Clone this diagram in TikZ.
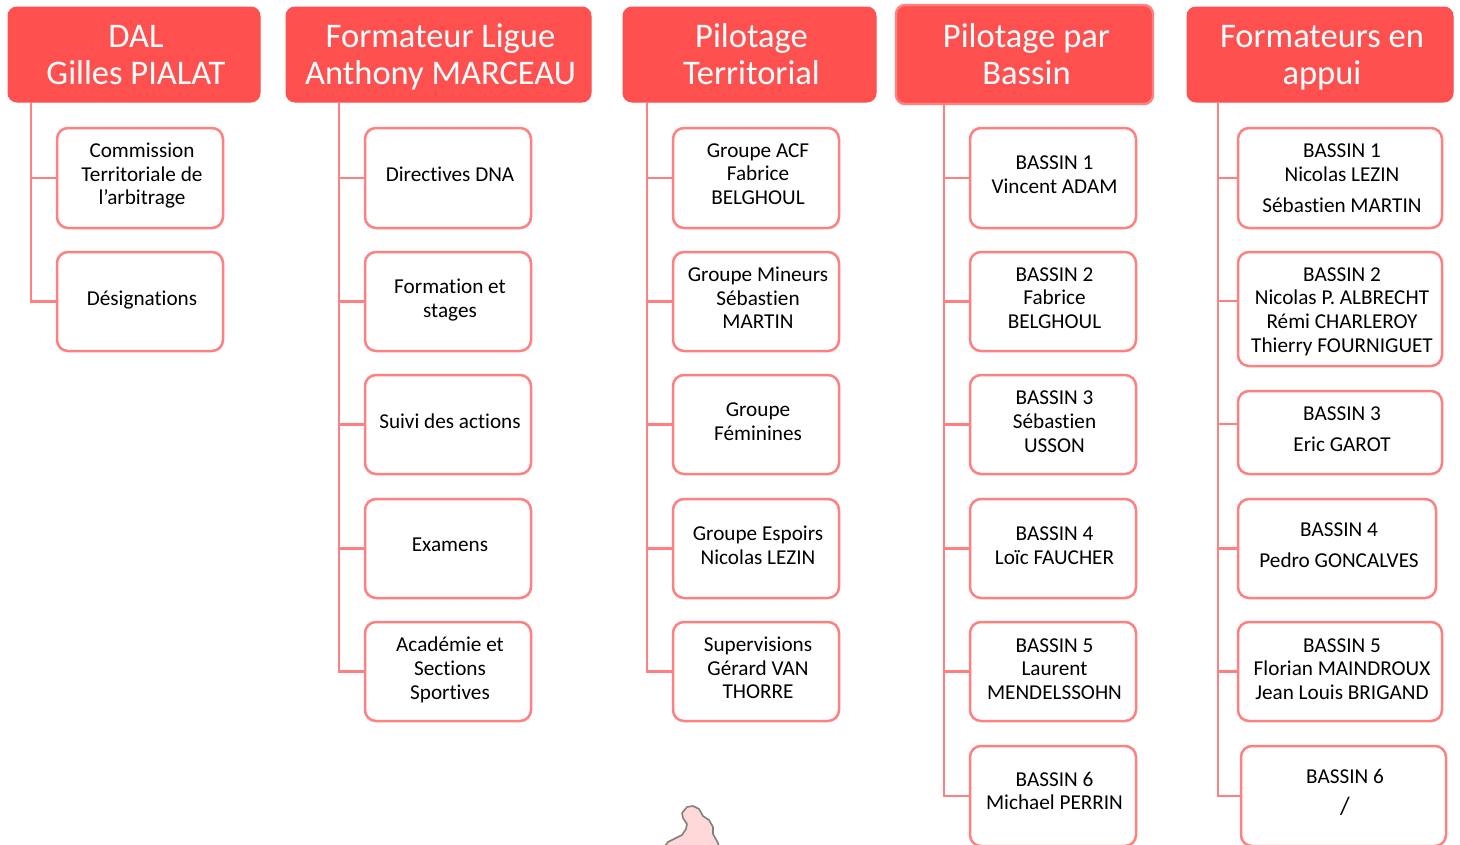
\documentclass[tikz,border=0pt]{standalone}
\usepackage{fontspec}
\setmainfont[Ligatures=NoCommon]{Carlito}
\definecolor{hdr}{HTML}{FF5050}
\definecolor{lnk}{HTML}{FF8080}
\tikzset{
  cardbox/.style={draw=lnk,line width=2.5pt,fill=white,rounded corners=11pt,inner sep=0pt},
  cardtext/.style={align=center,inner sep=0pt,text=black,font=\fontsize{21.2}{23.7}\selectfont,execute at begin node=\strut,execute at end node=\strut},
  hdrbox/.style={draw=hdr,line width=1pt,fill=hdr,rounded corners=9pt,inner sep=0pt},
  hdrtext/.style={align=center,inner sep=0pt,text=white,font=\fontsize{34.5}{37}\selectfont,execute at begin node=\strut,execute at end node=\strut},
  link/.style={draw=lnk,line width=2.5pt}
}
% name, x1, x2, y1, y2, text x, text y, text
\newcommand{\card}[8]{%
  \node[cardbox,minimum width={(#3-#2)*1pt},minimum height={(#5-#4)*1pt}] (#1) at ({(#2+#3)/2},{(#4+#5)/2}) {};
  \node[cardtext] (#1t) at (#6,{#7+4.5}) {#8};
  \coordinate (#1j) at (#1.west);
}
% name, x1, x2, y1, y2, trunk x, text
\newcommand{\hdrnode}[7]{%
  \node[hdrbox,minimum width={(#3-#2)*1pt},minimum height={(#5-#4)*1pt}] (#1) at ({(#2+#3)/2},{(#4+#5)/2}) {};
  \node[hdrtext] (#1t) at ({(#2+#3)/2+2},60) {#7};
  \coordinate (#1T) at (#6,#5);
}
\newcommand{\tie}[2]{\draw[link] (#1T) |- (#2j);}
\begin{document}
\begin{tikzpicture}[x=1pt,y=-1pt]
\useasboundingbox (0,0) rectangle (1460,844);
\begin{scope}
\clip (0,0) rectangle (1460,844);
% pale emblem at the foot of the page
\fill[fill=white] (0,0) rectangle (1460,844);
\draw[draw=black!50,line width=1.6pt,fill=red!15!white,line join=round]
  (662,850) -- (668,842) -- (676,838) -- (682,835) -- (686,829) -- (687,824) -- (683,818) -- (682,813) -- (687,807) -- (693,806) -- (699,809) -- (703,816) -- (709,820) -- (713,827) -- (713,834) -- (718,843) -- (720,850);
\hdrnode{a}{8}{260}{7}{102}{31}{DAL\\Gilles PIALAT}
\hdrnode{b}{286}{591}{7}{102}{339}{Formateur Ligue\\Anthony MARCEAU}
\hdrnode{c}{623}{876}{7}{102}{647}{Pilotage\\Territorial}
\begin{scope}[hdrbox/.append style={draw=lnk,line width=2.4pt}]
\hdrnode{d}{896}{1153}{5}{104}{944}{Pilotage par\\Bassin}
\end{scope}
\hdrnode{e}{1187}{1453}{7}{102}{1218}{Formateurs en\\appui}

\card{a1}{57}{223}{128}{228}{142}{173}{Commission\\Territoriale de\\l’arbitrage}
\card{a2}{57}{223}{252}{351}{142}{296}{Désignations}

\card{b1}{365}{531}{128}{228}{450}{172}{Directives DNA}
\card{b2}{365}{531}{252}{351}{450}{297}{Formation et\\stages}
\card{b3}{365}{531}{375}{474}{450}{419}{Suivi des actions}
\card{b4}{365}{531}{499}{598}{450}{542}{Examens}
\card{b5}{365}{531}{622}{721}{450}{667}{Académie et\\Sections\\Sportives}

\card{c1}{673}{839}{128}{228}{758}{173}{Groupe ACF\\Fabrice\\BELGHOUL}
\card{c2}{673}{839}{252}{351}{758}{297}{Groupe Mineurs\\Sébastien\\MARTIN}
\card{c3}{673}{839}{375}{474}{758}{421}{Groupe\\Féminines}
\card{c4}{673}{839}{499}{598}{758}{544}{Groupe Espoirs\\Nicolas LEZIN}
\card{c5}{673}{839}{622}{721}{758}{667}{Supervisions\\Gérard VAN\\THORRE}

\card{d1}{970}{1136}{128}{228}{1054.5}{174}{BASSIN 1\\Vincent ADAM}
\card{d2}{970}{1136}{252}{351}{1054.5}{297}{BASSIN 2\\Fabrice\\BELGHOUL}
\card{d3}{970}{1136}{375}{474}{1054.5}{420.5}{BASSIN 3\\Sébastien\\USSON}
\card{d4}{970}{1136}{499}{598}{1054.5}{545}{BASSIN 4\\Loïc FAUCHER}
\card{d5}{970}{1136}{622}{721}{1054.5}{668}{BASSIN 5\\Laurent\\MENDELSSOHN}
\card{d6}{970}{1136}{746}{846}{1054.5}{790}{BASSIN 6\\Michael PERRIN}

\card{e1}{1238}{1442}{128}{228}{1342}{177}{BASSIN 1\\Nicolas LEZIN\\[7pt]Sébastien MARTIN}
\card{e2}{1238}{1442}{252}{366}{1342}{309}{BASSIN 2\\Nicolas P. ALBRECHT\\Rémi CHARLEROY\\Thierry FOURNIGUET}
\coordinate (e2j) at (e2.west |- 0,301);
\card{e3}{1238}{1442}{391}{474}{1342}{428}{BASSIN 3\\[7pt]Eric GAROT}
\coordinate (e3j) at (e3.west |- 0,424);
\card{e4}{1238}{1436}{499}{598}{1339}{544}{BASSIN 4\\[7pt]Pedro GONCALVES}
\card{e5}{1238}{1442}{622}{721}{1342}{668}{BASSIN 5\\Florian MAINDROUX\\Jean Louis BRIGAND}
\card{e6}{1241}{1446}{746}{846}{1345}{791}{BASSIN 6\\[7pt]{\fontsize{25}{23.7}\selectfont /}}

\tie{a}{a1}\tie{a}{a2}
\tie{b}{b1}\tie{b}{b2}\tie{b}{b3}\tie{b}{b4}\tie{b}{b5}
\tie{c}{c1}\tie{c}{c2}\tie{c}{c3}\tie{c}{c4}\tie{c}{c5}
\tie{d}{d1}\tie{d}{d2}\tie{d}{d3}\tie{d}{d4}\tie{d}{d5}\tie{d}{d6}
\tie{e}{e1}\tie{e}{e2}\tie{e}{e3}\tie{e}{e4}\tie{e}{e5}\tie{e}{e6}
\end{scope}
\end{tikzpicture}
\end{document}
